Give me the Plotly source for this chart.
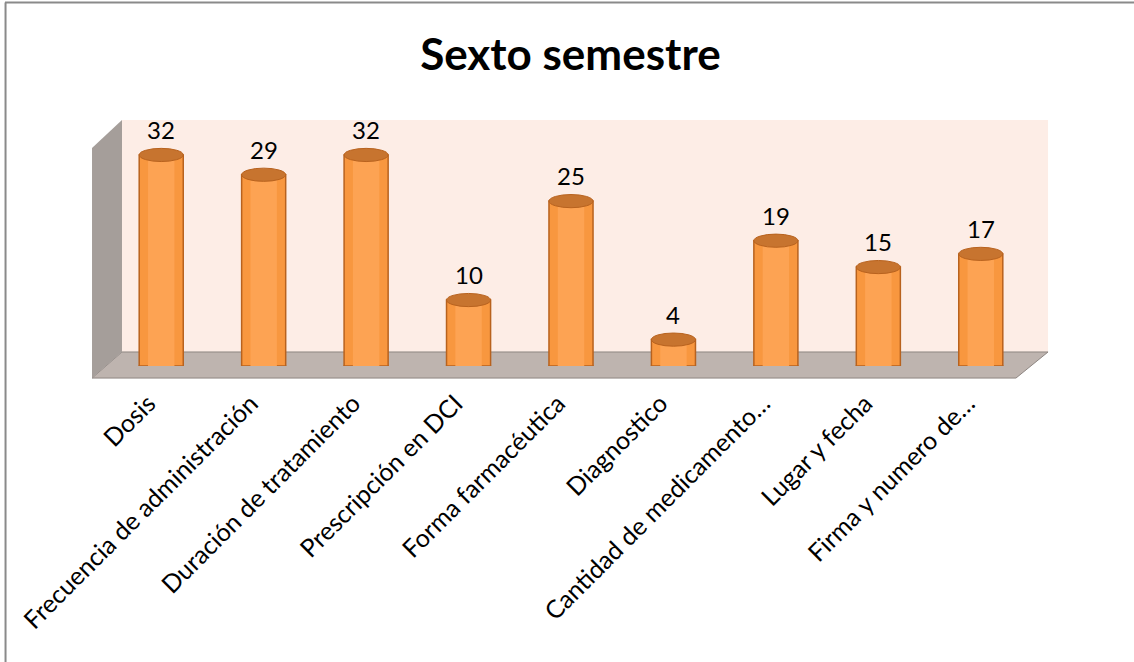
import plotly.graph_objects as go

categories = ["Dosis", "Frecuencia de administración", "Duración de tratamiento",
              "Prescripción en DCI", "Forma farmacéutica", "Diagnostico",
              "Cantidad de medicamento…", "Lugar y fecha", "Firma y numero de…"]
values = [32, 29, 32, 10, 25, 4, 19, 15, 17]

FONT = "Lato"
BAR = "#F8973F"
BAR_HI = "#FDA353"
BAR_EDGE = "#B8621E"
TOP = "#C7742F"
BAR_W = 0.43

xs = list(range(len(categories)))
fig = go.Figure()
fig.add_trace(go.Bar(
    x=xs, y=values, width=BAR_W,
    marker=dict(color=BAR, line=dict(color=BAR_EDGE, width=1.5)),
    hoverinfo="y", showlegend=False,
))
fig.add_trace(go.Bar(
    x=xs, y=values, width=BAR_W * 0.6,
    marker=dict(color=BAR_HI, line=dict(width=0)),
    hoverinfo="skip", showlegend=False,
))

shapes = []
# back wall, floor, side wall (paper coordinates)
shapes.append(dict(type="rect", xref="paper", yref="paper", x0=0.013, x1=1.0174, y0=0.057, y1=1.0,
                   fillcolor="#FDEDE6", line=dict(width=0), layer="below"))
shapes.append(dict(type="path", xref="paper", yref="paper",
                   path="M 0.013 0.057 L 1.0174 0.057 L 0.9826 -0.049 L -0.0195 -0.049 Z",
                   fillcolor="#BEB4AF", line=dict(color="#8E8682", width=1), layer="below"))
shapes.append(dict(type="path", xref="paper", yref="paper",
                   path="M -0.0195 0.886 L 0.013 1.0 L 0.013 0.057 L -0.0195 -0.049 Z",
                   fillcolor="#A59E9A", line=dict(width=0), layer="below"))
# cylinder bottoms and tops, from data
for i, v in enumerate(values):
    shapes.append(dict(type="circle", xref="x", yref="y", x0=i - BAR_W / 2, x1=i + BAR_W / 2,
                       y0=-0.6, y1=0.6, fillcolor=BAR, line=dict(color=BAR_EDGE, width=1.5),
                       layer="below"))
    shapes.append(dict(type="circle", xref="x", yref="y", x0=i - BAR_W / 2, x1=i + BAR_W / 2,
                       y0=v - 1.0, y1=v + 1.0, fillcolor=TOP, line=dict(color=BAR_EDGE, width=1),
                       layer="above"))
# chart border (top and left edges)
shapes.append(dict(type="line", xref="paper", yref="paper", x0=-0.1139, x1=1.12, y0=1.4776, y1=1.4776,
                   line=dict(color="#8A8A8A", width=2), layer="below"))
shapes.append(dict(type="line", xref="paper", yref="paper", x0=-0.1133, x1=-0.1133, y0=1.4776, y1=-1.25,
                   line=dict(color="#8A8A8A", width=2), layer="below"))

annotations = [dict(x=i, y=v, text=str(v), xref="x", yref="y", showarrow=False,
                    yanchor="bottom", yshift=9, font=dict(family=FONT, size=24, color="#000"))
               for i, v in enumerate(values)]

fig.update_layout(
    width=1134, height=662,
    margin=dict(l=110, r=102, t=120, b=296),
    paper_bgcolor="white", plot_bgcolor="rgba(0,0,0,0)",
    barmode="overlay",
    title=dict(text="<b>Sexto semestre</b>", x=0.503, xanchor="center", y=0.918, yanchor="middle",
               font=dict(family=FONT, size=44, color="#000")),
    xaxis=dict(tickmode="array", tickvals=xs, ticktext=categories,
               range=[-0.5, len(categories) - 0.5], tickangle=-45, showgrid=False, zeroline=False,
               showline=False, ticks="", ticklabelstandoff=17, ticklabelshift=-13,
               tickfont=dict(family=FONT, size=25, color="#000")),
    yaxis=dict(range=[0, 37.3], visible=False),
    shapes=shapes, annotations=annotations,
)

fig.write_html("out.html", config={"displayModeBar": False},
               post_script="document.body.style.margin='0px';")
